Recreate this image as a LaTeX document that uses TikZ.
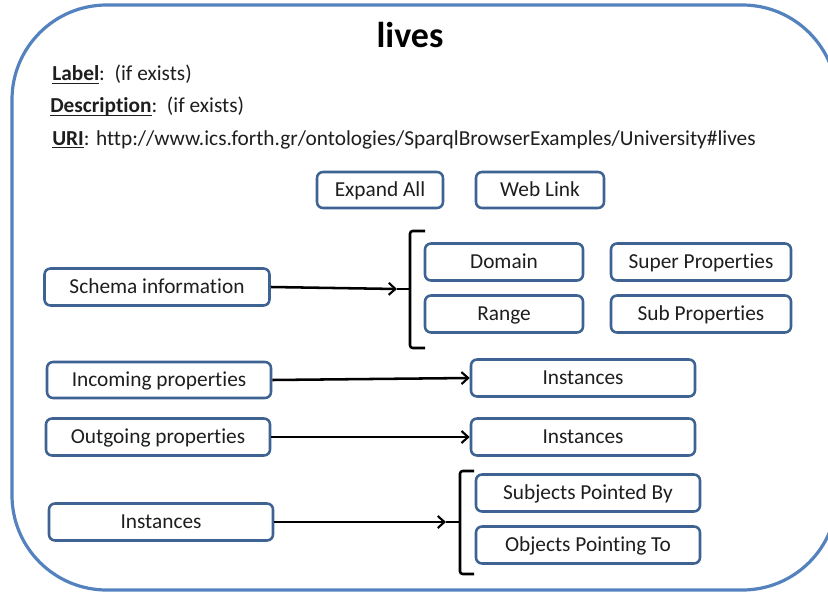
\documentclass[tikz,border=0pt]{standalone}
\usepackage{fontspec}
\setmainfont[Ligatures=NoCommon]{Carlito}
\usetikzlibrary{arrows.meta}
\definecolor{boxblue}{RGB}{62,98,146}
\definecolor{frameblue}{RGB}{84,130,190}
\definecolor{txt}{RGB}{30,30,30}
% underline with a fixed offset below the baseline
\newcommand\ulbold[1]{\begingroup\setbox0\hbox{\bfseries #1}\rlap{\rule[-2.2pt]{\wd0}{0.9pt}}\box0\endgroup}
\begin{document}
\begin{tikzpicture}[x=0.75pt,y=-0.75pt,
  frame/.style={draw=frameblue,line width=2.4pt,rounded corners=71pt},
  btn/.style={draw=boxblue,line width=1.9pt,rounded corners=4.5pt,fill=white,
    inner sep=0pt,text height=12.5pt,text depth=3.5pt,text=txt,
    font=\fontsize{16pt}{19pt}\selectfont},
  info/.style={anchor=base west,inner sep=0pt,text=txt,font=\fontsize{16pt}{19pt}\selectfont},
  conn/.style={line width=1.9pt,-{Straight Barb[length=5pt,width=9pt,line width=1.6pt]}},
  bracket/.style={line width=1.9pt,rounded corners=2pt}]
\useasboundingbox (0,0) rectangle (828,592);
% outer frame, running past the right edge
\draw[frame] (12,5) rectangle (837,590);

% heading and property information
\node[anchor=base,inner sep=0pt,font=\fontsize{27pt}{30pt}\selectfont\bfseries] (title) at (410,48) {lives};
\node[info] (label) at (52,81) {\ulbold{Label}:\ \ (if exists)};
\node[info] (desc) at (50,113) {\ulbold{Description}:\ \ (if exists)};
\node[info] (uri) at (52,145) {\ulbold{URI}: http://www.ics.forth.gr/ontologies/SparqlBrowserExamples/University\#lives};

% buttons
\node[btn,minimum width=126*0.75pt,minimum height=36*0.75pt] (expand) at (380,190) {Expand All};
\node[btn,minimum width=128*0.75pt,minimum height=36*0.75pt] (weblink) at (540,190) {Web Link};

% schema information
\node[btn,minimum width=225*0.75pt,minimum height=37*0.75pt] (schema) at (157,287) {Schema information};
\node[btn,minimum width=158*0.75pt,minimum height=37*0.75pt] (domain) at (504,262) {Domain};
\node[btn,minimum width=158*0.75pt,minimum height=37*0.75pt] (range) at (504,314) {Range};
\node[btn,minimum width=180*0.75pt,minimum height=37*0.75pt] (superp) at (701,262) {Super Properties};
\node[btn,minimum width=180*0.75pt,minimum height=37*0.75pt] (subp) at (701,314) {Sub Properties};
\coordinate (brA) at (397,289);
\draw[bracket] (425,231) -- (410,231) -- (410,348) -- (425,348);
\draw[line width=1.9pt] (410,289) -- (brA);
\draw[conn] (schema.east) -- (brA);

% incoming and outgoing properties
\node[btn,minimum width=224*0.75pt,minimum height=36*0.75pt] (incoming) at (159,380) {Incoming properties};
\node[btn,minimum width=224*0.75pt,minimum height=37*0.75pt] (inst1) at (583,378) {Instances};
\draw[conn] (incoming.east) -- (inst1.west);
\node[btn,minimum width=224*0.75pt,minimum height=37*0.75pt] (outgoing) at (158,437) {Outgoing properties};
\node[btn,minimum width=224*0.75pt,minimum height=37*0.75pt] (inst2) at (583,437) {Instances};
\draw[conn] (outgoing.east) -- (inst2.west);

% instances
\node[btn,minimum width=224*0.75pt,minimum height=37*0.75pt] (instances) at (161,522) {Instances};
\node[btn,minimum width=224*0.75pt,minimum height=37*0.75pt] (subjects) at (588,493) {Subjects Pointed By};
\node[btn,minimum width=224*0.75pt,minimum height=37*0.75pt] (objects) at (588,545) {Objects Pointing To};
\coordinate (brB) at (446,522);
\draw[bracket] (474,471) -- (460,471) -- (460,574) -- (474,574);
\draw[line width=1.9pt] (460,522) -- (brB);
\draw[conn] (instances.east) -- (brB);
\end{tikzpicture}
\end{document}
